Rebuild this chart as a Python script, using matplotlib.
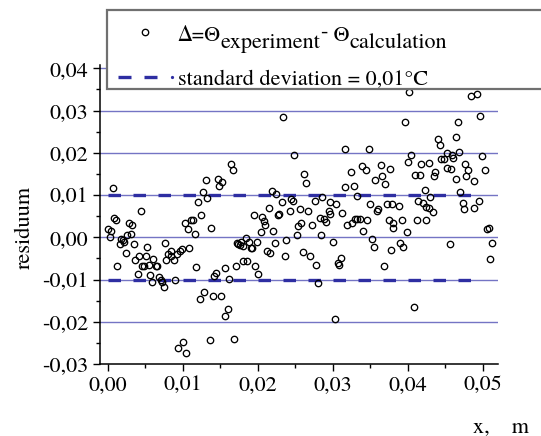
import matplotlib
matplotlib.use("Agg")
import matplotlib.pyplot as plt
from matplotlib.ticker import MultipleLocator, FuncFormatter
from matplotlib.patches import Rectangle
from matplotlib.lines import Line2D
import numpy as np

plt.rcParams['font.family'] = ['TeX Gyre Termes', 'STIXGeneral', 'DejaVu Serif']
plt.rcParams['axes.unicode_minus'] = False

# ---- data ----
x_res = [
    0.0000, 0.0003, 0.0005, 0.0007, 0.0009, 0.0011, 0.0013, 0.0016, 0.0018, 0.0020,
    0.0022, 0.0024, 0.0026, 0.0029, 0.0031, 0.0033, 0.0035, 0.0037, 0.0040, 0.0042,
    0.0044, 0.0046, 0.0049, 0.0051, 0.0053, 0.0055, 0.0057, 0.0059, 0.0061, 0.0064,
    0.0066, 0.0068, 0.0071, 0.0073, 0.0075, 0.0076, 0.0078, 0.0081, 0.0084, 0.0085,
    0.0088, 0.0090, 0.0092, 0.0094, 0.0097, 0.0099, 0.0100, 0.0103, 0.0105, 0.0107,
    0.0109, 0.0111, 0.0114, 0.0116, 0.0118, 0.0120, 0.0123, 0.0125, 0.0127, 0.0129,
    0.0131, 0.0133, 0.0136, 0.0138, 0.0140, 0.0142, 0.0145, 0.0147, 0.0149, 0.0151,
    0.0153, 0.0156, 0.0157, 0.0160, 0.0162, 0.0164, 0.0167, 0.0169, 0.0171, 0.0172,
    0.0174, 0.0176, 0.0178, 0.0180, 0.0181, 0.0184, 0.0186, 0.0188, 0.0191, 0.0193,
    0.0195, 0.0197, 0.0199, 0.0201, 0.0204, 0.0206, 0.0208, 0.0210, 0.0212, 0.0215,
    0.0216, 0.0219, 0.0221, 0.0223, 0.0225, 0.0227, 0.0229, 0.0232, 0.0234, 0.0236,
    0.0238, 0.0243, 0.0244, 0.0247, 0.0249, 0.0252, 0.0254, 0.0256, 0.0258, 0.0260,
    0.0262, 0.0264, 0.0267, 0.0270, 0.0273, 0.0276, 0.0278, 0.0280, 0.0283, 0.0284,
    0.0286, 0.0289, 0.0291, 0.0295, 0.0296, 0.0297, 0.0300, 0.0303, 0.0305, 0.0307,
    0.0309, 0.0311, 0.0313, 0.0316, 0.0317, 0.0319, 0.0324, 0.0326, 0.0328, 0.0330,
    0.0332, 0.0333, 0.0337, 0.0339, 0.0341, 0.0344, 0.0346, 0.0348, 0.0350, 0.0352,
    0.0355, 0.0357, 0.0359, 0.0361, 0.0364, 0.0366, 0.0368, 0.0370, 0.0373, 0.0375,
    0.0376, 0.0378, 0.0379, 0.0380, 0.0381, 0.0388, 0.0390, 0.0392, 0.0394, 0.0396,
    0.0399, 0.0400, 0.0402, 0.0404, 0.0408, 0.0410, 0.0412, 0.0414, 0.0416, 0.0418,
    0.0420, 0.0423, 0.0425, 0.0425, 0.0428, 0.0429, 0.0430, 0.0434, 0.0435, 0.0437,
    0.0440, 0.0443, 0.0444, 0.0449, 0.0452, 0.0453, 0.0456, 0.0458, 0.0459, 0.0461,
    0.0464, 0.0464, 0.0467, 0.0468, 0.0470, 0.0474, 0.0475, 0.0476, 0.0478, 0.0481,
    0.0484, 0.0488, 0.0489, 0.0492, 0.0495, 0.0497, 0.0499, 0.0503, 0.0506, 0.0508,
    0.0510, 0.0512,
]
y_res = [
    0.0020, 0.0000, 0.0016, 0.0117, 0.0046, 0.0040, -0.0067, -0.0017, -0.0003, -0.0006,
    -0.0011, -0.0036, 0.0006, 0.0034, 0.0008, 0.0028, -0.0017, -0.0053, -0.0088, -0.0045,
    0.0063, -0.0067, -0.0069, -0.0045, -0.0024, -0.0066, -0.0089, -0.0107, -0.0051, -0.0069,
    -0.0067, -0.0095, -0.0100, -0.0105, -0.0118, -0.0014, -0.0053, -0.0039, -0.0033, -0.0045,
    -0.0053, -0.0101, -0.0040, -0.0262, -0.0033, -0.0027, -0.0249, 0.0034, -0.0275, 0.0020,
    -0.0025, 0.0040, 0.0040, 0.0008, -0.0071, 0.0084, -0.0146, 0.0053, 0.0108, -0.0130,
    0.0135, 0.0093, -0.0244, 0.0023, -0.0139, -0.0091, -0.0085, 0.0137, 0.0121, -0.0138,
    0.0131, -0.0072, -0.0187, -0.0170, -0.0098, 0.0173, 0.0159, -0.0240, -0.0067, -0.0013,
    -0.0016, -0.0018, -0.0010, -0.0055, -0.0021, -0.0002, -0.0057, -0.0012, -0.0025, -0.0025,
    0.0052, -0.0068, -0.0012, -0.0087, 0.0013, 0.0048, 0.0039, 0.0030, -0.0033, 0.0070,
    -0.0037, 0.0110, 0.0014, -0.0013, 0.0102, 0.0052, 0.0056, 0.0084, 0.0286, -0.0045,
    -0.0007, 0.0062, 0.0090, 0.0086, 0.0194, 0.0006, 0.0026, 0.0068, 0.0033, -0.0035,
    0.0151, 0.0129, 0.0062, -0.0045, 0.0030, 0.0087, -0.0065, -0.0109, 0.0046, 0.0005,
    0.0095, 0.0044, 0.0036, 0.0062, 0.0056, 0.0083, -0.0012, -0.0194, 0.0078, -0.0060,
    -0.0066, -0.0048, 0.0058, 0.0209, 0.0118, 0.0028, 0.0155, 0.0034, 0.0121, 0.0044,
    0.0098, 0.0044, 0.0044, 0.0168, 0.0014, 0.0159, 0.0040, 0.0208, 0.0079, -0.0004,
    -0.0023, 0.0135, 0.0063, 0.0068, 0.0172, 0.0145, -0.0067, 0.0127, 0.0079, 0.0042,
    0.0161, -0.0031, 0.0080, 0.0034, 0.0021, 0.0075, -0.0013, 0.0042, -0.0023, 0.0272,
    0.0013, 0.0178, 0.0344, 0.0194, -0.0164, 0.0147, 0.0040, 0.0086, 0.0147, 0.0174,
    0.0082, 0.0111, 0.0072, 0.0040, 0.0070, 0.0176, 0.0096, 0.0060, 0.0145, 0.0155,
    0.0232, 0.0218, 0.0186, 0.0186, 0.0165, 0.0200, -0.0017, 0.0161, 0.0196, 0.0188,
    0.0137, 0.0237, 0.0272, 0.0202, 0.0108, 0.0082, 0.0066, 0.0174, 0.0145, 0.0159,
    0.0335, 0.0070, 0.0133, 0.0340, 0.0087, 0.0287, 0.0192, 0.0159, 0.0020, 0.0022,
    -0.0051, -0.0013,
]
x_std = [0.0, 0.0497]
y_std_upper = [0.01, 0.01]
y_std_lower = [-0.01, -0.01]
y_ticks = [-0.03, -0.02, -0.01, 0.00, 0.01, 0.02, 0.03, 0.04]
x_ticks = [0.00, 0.01, 0.02, 0.03, 0.04, 0.05]
legend_labels = ["standard deviation = 0,01\u00b0C"]

W, H = 541, 436
fig = plt.figure(figsize=(W / 100, H / 100), dpi=100)
ax = fig.add_axes([99.5 / W, 1 - 364 / H, (497.5 - 99.5) / W, (364 - 65) / H])

ax.set_xlim(-0.00107, 0.052)
ax.set_ylim(-0.03, 0.0408)

grid_color = '#7474c4'
for yv in y_ticks[1:]:
    ax.axhline(yv, color=grid_color, lw=1.0, zorder=1)

lw_std = 2.4
dash = (0, (9.0 / lw_std, 9.0 / lw_std))
ax.plot(x_std, y_std_upper, color='#2e2ea2', lw=lw_std, linestyle=dash, zorder=2)
ax.plot(x_std, y_std_lower, color='#2e2ea2', lw=lw_std, linestyle=dash, zorder=2)

ax.plot(x_res, y_res, linestyle='none', marker='o', markersize=4.6,
        markerfacecolor='none', markeredgecolor='black', markeredgewidth=0.95, zorder=3)

for s in ['top', 'right']:
    ax.spines[s].set_visible(False)
for s in ['left', 'bottom']:
    ax.spines[s].set_linewidth(1.1)

fmt = FuncFormatter(lambda v, p: ("%.2f" % v).replace('.', ',').replace('-0,00', '0,00'))
ax.set_yticks(y_ticks)
ax.set_xticks(x_ticks)
ax.yaxis.set_major_formatter(fmt)
ax.xaxis.set_major_formatter(fmt)
ax.xaxis.set_minor_locator(MultipleLocator(0.005))
ax.yaxis.set_minor_locator(MultipleLocator(0.005))
ax.tick_params(which='major', direction='out', length=5, width=1.0, labelsize=16, pad=3)
ax.tick_params(which='minor', direction='out', length=3, width=1.0)

fig.text(25 / W, 1 - 227 / H, 'residuum', rotation=90, fontsize=16, ha='center', va='center')
fig.text(473 / W, 1 - 432 / H, 'x,    m', fontsize=16, ha='left', va='baseline')

# legend box
rect = Rectangle((107 / W, 1 - 89 / H), 470 / W, 79 / H, transform=fig.transFigure,
                 facecolor='white', edgecolor='#707070', lw=1.6, zorder=5)
fig.patches.append(rect)
fig.lines.append(Line2D([145 / W], [1 - 32 / H], transform=fig.transFigure, marker='o',
                        markersize=4.6, markerfacecolor='none', markeredgecolor='black',
                        markeredgewidth=0.95, linestyle='none', zorder=6))
fig.lines.append(Line2D([118 / W, 166 / W], [1 - 77 / H, 1 - 77 / H], transform=fig.transFigure,
                        color='#2e2ea2', lw=lw_std, linestyle=(0, (13 * 0.72 / lw_std, 13 * 0.72 / lw_std)),
                        zorder=6))
fig.lines.append(Line2D([172 / W], [1 - 77 / H], transform=fig.transFigure, marker='o',
                        markersize=1.3, color='#2e2ea2', linestyle='none', zorder=6))

# first legend label, pieces chained left to right
fig.canvas.draw()
renderer = fig.canvas.get_renderer()
pieces = [("\u0394=\u0398", 0), ("experiment", 7), ("-", -3), (" \u0398", 0), ("calculation", 7)]
xpos = 177.0
for txt, dy in pieces:
    t = fig.text(xpos / W, 1 - (41 + dy) / H, txt, fontsize=16, ha='left', va='baseline', zorder=7)
    bb = t.get_window_extent(renderer)
    xpos += bb.width
fig.text(178 / W, 1 - 85 / H, legend_labels[0], fontsize=16, ha='left', va='baseline', zorder=7)

fig.savefig('out.png', dpi=100)
